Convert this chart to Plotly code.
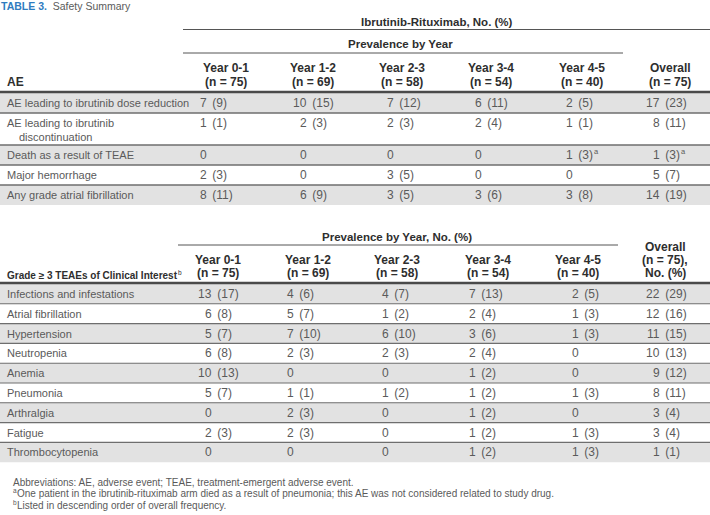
import plotly.graph_objects as go

# ---------------- data ----------------
title_label = "TABLE 3."
title_text = "Safety Summary"
spanner_top = "Ibrutinib-Rituximab, No. (%)"
spanner_prev = "Prevalence by Year"
spanner_prev2 = "Prevalence by Year, No. (%)"
period_labels = ["Year 0-1", "Year 1-2", "Year 2-3", "Year 3-4", "Year 4-5", "Overall"]
period_n = [75, 69, 58, 54, 40, 75]

ae_header = "AE"
ae_labels = [
    ["AE leading to ibrutinib dose reduction"],
    ["AE leading to ibrutinib", "discontinuation"],
    ["Death as a result of TEAE"],
    ["Major hemorrhage"],
    ["Any grade atrial fibrillation"],
]
ae_counts = [
    [7, 10, 7, 6, 2, 17],
    [1, 2, 2, 2, 1, 8],
    [0, 0, 0, 0, 1, 1],
    [2, 0, 3, 0, 0, 5],
    [8, 6, 3, 3, 3, 14],
]
ae_pcts = [
    [9, 15, 12, 11, 5, 23],
    [1, 3, 3, 4, 1, 11],
    [None, None, None, None, 3, 3],
    [3, None, 5, None, None, 7],
    [11, 9, 5, 6, 8, 19],
]
ae_marks = [
    ["", "", "", "", "", ""],
    ["", "", "", "", "", ""],
    ["", "", "", "", "a", "a"],
    ["", "", "", "", "", ""],
    ["", "", "", "", "", ""],
]

teae_header = "Grade \u2265 3 TEAEs of Clinical Interest"
teae_header_mark = "b"
teae_labels = ["Infections and infestations", "Atrial fibrillation", "Hypertension",
               "Neutropenia", "Anemia", "Pneumonia", "Arthralgia", "Fatigue",
               "Thrombocytopenia"]
teae_counts = [
    [13, 4, 4, 7, 2, 22],
    [6, 5, 1, 2, 1, 12],
    [5, 7, 6, 3, 1, 11],
    [6, 2, 2, 2, 0, 10],
    [10, 0, 0, 1, 0, 9],
    [5, 1, 1, 1, 1, 8],
    [0, 2, 0, 1, 0, 3],
    [2, 2, 0, 1, 1, 3],
    [0, 0, 0, 1, 1, 1],
]
teae_pcts = [
    [17, 6, 7, 13, 5, 29],
    [8, 7, 2, 4, 3, 16],
    [7, 10, 10, 6, 3, 15],
    [8, 3, 3, 4, None, 13],
    [13, None, None, 2, None, 12],
    [7, 1, 2, 2, 3, 11],
    [None, 3, None, 2, None, 4],
    [3, 3, None, 2, 3, 4],
    [None, None, None, 2, 3, 1],
]

footnotes = [
    ("", "Abbreviations: AE, adverse event; TEAE, treatment-emergent adverse event."),
    ("a", "One patient in the ibrutinib-rituximab arm died as a result of pneumonia; this AE was not considered related to study drug."),
    ("b", "Listed in descending order of overall frequency."),
]

# ---------------- style / geometry ----------------
W, H = 710, 515
FONT = "Liberation Sans, Arial, sans-serif"
BODY_COL = "#5a5a5a"
HEAD_COL = "#2e2e2e"
SHADE = "#e2e2e2"
SEP = "#6e6e6e"
BLUE = "#2f7cc0"
LBL_SIZE = 11
NUM_SIZE = 12
HEAD_SIZE = 12
SPAN_SIZE = 11.5
NOTE_SIZE = 10

t1_head_x = [226, 313, 402, 491, 582, 670]
t1_num_x = [208, 308, 395, 483, 574, 661]
t1_rule_y = 92
t1_row_h = [20, 32, 20, 20, 20]

t2_head_x = [218, 308, 397, 488, 578, 665]
t2_num_x = [213, 295, 390, 477, 580, 661]
t2_rule_y = 283
t2_row_h = 19.8

fig = go.Figure()
shapes = []
anns = []


def text(x, y, s, size=LBL_SIZE, color=BODY_COL, xanchor="left", bold=False):
    if bold:
        s = "<b>" + s + "</b>"
    anns.append(dict(x=x, y=y, xref="x", yref="y", text=s, showarrow=False,
                     xanchor=xanchor, yanchor="middle", borderpad=0,
                     font=dict(family=FONT, size=size, color=color)))


def head(x, y, s, xanchor="center", size=HEAD_SIZE):
    text(x, y, s, size=size, color=HEAD_COL, xanchor=xanchor, bold=True)


def hline(x0, x1, y, width=1, color=SEP):
    shapes.append(dict(type="line", xref="x", yref="y", x0=x0, x1=x1, y0=y, y1=y,
                       line=dict(color=color, width=width), layer="above"))


def shade(y0, y1):
    shapes.append(dict(type="rect", xref="x", yref="y", x0=0, x1=W, y0=y0, y1=y1,
                       fillcolor=SHADE, line=dict(width=0), layer="below"))


def cell(xc, y, count, pct, mark):
    text(xc, y, str(count), size=NUM_SIZE, xanchor="right")
    rest = "" if pct is None else "\u00a0(%d)" % pct
    if rest:
        text(xc, y, rest, size=NUM_SIZE, xanchor="left")
    if mark:
        text(xc + (19 if pct is not None else 1), y - 3.5, mark, size=7.5, xanchor="left")


# title
anns.append(dict(x=0, y=6, xref="x", yref="y", showarrow=False, xanchor="left", yanchor="middle",
                 borderpad=0,
                 text="<span style='color:%s'><b>%s</b></span>  %s" % (BLUE, title_label, title_text),
                 font=dict(family=FONT, size=10.5, color=BODY_COL)))

# ---------- table 1 ----------
head(437, 22, spanner_top, size=SPAN_SIZE)
hline(183, W, 29.5, width=1, color="#555")
head(400, 44, spanner_prev, size=SPAN_SIZE)
hline(183, 623, 53, width=1, color="#555")
for i, lab in enumerate(period_labels):
    head(t1_head_x[i], 67.5, lab)
    head(t1_head_x[i], 82, "(n = %d)" % period_n[i])
head(6, 82, ae_header, xanchor="left")

y = t1_rule_y + 1
for r, lines in enumerate(ae_labels):
    h = t1_row_h[r]
    if r % 2 == 0:
        shade(y, y + h)
    if r > 0:
        hline(0, W, y, width=1.3)
    if len(lines) == 1:
        yc = y + h / 2
        text(6, yc, lines[0])
    else:
        yc = y + 10
        text(6, yc, lines[0])
        text(18, yc + 14, lines[1])
    for c in range(6):
        cell(t1_num_x[c], yc, ae_counts[r][c], ae_pcts[r][c], ae_marks[r][c])
    y += h
hline(0, W, t1_rule_y, width=2.5, color="#4a4a4a")

# ---------- table 2 ----------
head(397, 237, spanner_prev2, size=SPAN_SIZE)
hline(178, 618, 245, width=1, color="#555")
for i, lab in enumerate(period_labels):
    if i < 5:
        head(t2_head_x[i], 260, lab)
        head(t2_head_x[i], 273, "(n = %d)" % period_n[i])
    else:
        head(t2_head_x[i], 247, lab)
        head(t2_head_x[i], 260, "(n = %d)," % period_n[i])
        head(t2_head_x[i], 273, "No. (%)")
head(6, 275, teae_header, xanchor="left", size=10)
text(177, 272, teae_header_mark, size=6.5, color=HEAD_COL, xanchor="left")

for r, lab in enumerate(teae_labels):
    y0 = t2_rule_y + 1 + r * t2_row_h
    if r % 2 == 0:
        shade(y0, y0 + t2_row_h)
    if r > 0:
        hline(0, W, y0, width=1.1)
    yc = y0 + t2_row_h / 2
    text(6, yc, lab)
    for c in range(6):
        cell(t2_num_x[c], yc, teae_counts[r][c], teae_pcts[r][c], "")
hline(0, W, t2_rule_y, width=2.5, color="#4a4a4a")

# ---------- footnotes ----------
for k, (mark, s) in enumerate(footnotes):
    yy = 482 + k * 11.6
    if mark:
        text(12, yy - 3, mark, size=6.5)
        text(16, yy, s, size=NOTE_SIZE)
    else:
        text(12, yy, s, size=NOTE_SIZE)

fig.update_layout(
    width=W, height=H,
    margin=dict(l=0, r=0, t=0, b=0),
    paper_bgcolor="white", plot_bgcolor="white",
    xaxis=dict(range=[0, W], visible=False, fixedrange=True),
    yaxis=dict(range=[H, 0], visible=False, fixedrange=True),
    shapes=shapes, annotations=anns, showlegend=False,
)
fig.write_html("out.html", config={"displayModeBar": False},
               post_script="document.body.style.margin='0px';document.body.style.overflow='hidden';")
